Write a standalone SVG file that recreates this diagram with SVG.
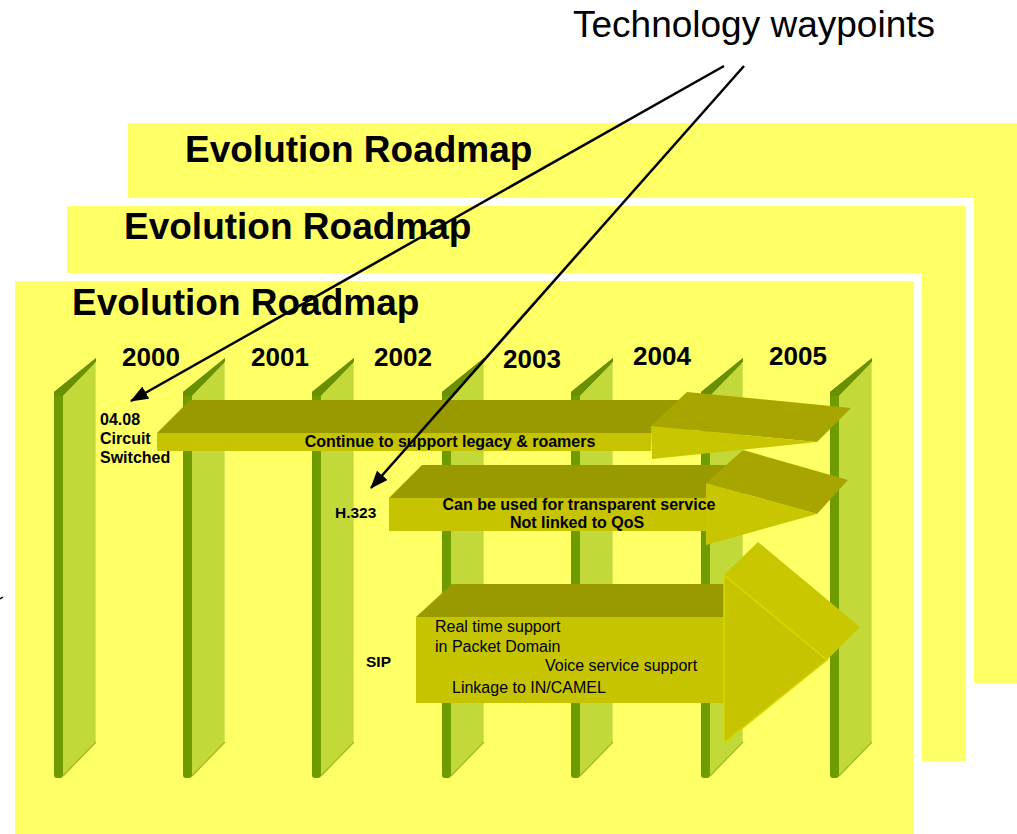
<svg xmlns="http://www.w3.org/2000/svg" width="1017" height="834" viewBox="0 0 1017 834">
<style>
text{font-family:"Liberation Sans",Arial,Helvetica,sans-serif;fill:#000}
.title{font-size:37px;font-weight:bold}
.year{font-size:26px;font-weight:bold}
.lbl{font-size:16px;font-weight:bold}
.txt{font-size:16px}
.panel{fill:#ffff66}
.border{fill:#ffffff}
.stop{fill:#999900}
.sfront{fill:#c6c400}
.htop{fill:#a8a500}
.hfront{fill:#c8c600}
.conn{stroke:#000;stroke-width:2.5;fill:none}
</style>
<defs>
<linearGradient id="strip" x1="0" y1="0" x2="1" y2="0">
<stop offset="0" stop-color="#6c9a00"/>
<stop offset="0.7" stop-color="#76a600"/>
<stop offset="1" stop-color="#82b000"/>
</linearGradient>
<g id="pillar">
<path d="M0,392 L42,358 L42,362 L9,396 L9,775 Q9,778 6,778 L3,778 Q0,778 0,775 Z" fill="url(#strip)"/>
<path d="M0,392 L42,358 L42,362 L9,396 L0,396 Z" fill="#6a8f00"/>
<polygon points="9,396 42,362 42,742 9,776" fill="#c3d93a"/>
<line x1="41.5" y1="362" x2="41.5" y2="742" stroke="#d3e752" stroke-width="1"/>
<line x1="9" y1="776" x2="42" y2="742" stroke="#98bc1c" stroke-width="1.2"/>
</g>
<marker id="ah" markerWidth="18" markerHeight="14" refX="17" refY="7" orient="auto" markerUnits="userSpaceOnUse">
<path d="M0,0 L18,7 L0,14 Z" fill="#000"/>
</marker>
</defs>
<rect width="1017" height="834" fill="#ffffff"/>
<g id="panel-back">
<rect class="panel" x="128" y="123" width="900" height="560"/>
<text class="title" x="185" y="162">Evolution Roadmap</text>
</g>
<g id="panel-middle">
<rect class="border" x="59" y="198" width="915" height="571"/>
<rect class="panel" x="67" y="206" width="899" height="555"/>
<text class="title" x="124" y="239">Evolution Roadmap</text>
</g>
<g id="panel-main">
<rect class="border" x="7" y="273" width="915" height="580"/>
<rect class="panel" x="15" y="281" width="899" height="570"/>
<text class="title" x="72" y="315">Evolution Roadmap</text>
</g>
<g id="years">
<text class="year" x="122" y="366">2000</text>
<text class="year" x="251" y="366">2001</text>
<text class="year" x="374" y="366">2002</text>
<text class="year" x="503" y="368">2003</text>
<text class="year" x="633" y="365">2004</text>
<text class="year" x="769" y="365">2005</text>
</g>
<g id="pillars">
<use href="#pillar" x="54"/>
<use href="#pillar" x="183"/>
<use href="#pillar" x="312"/>
<use href="#pillar" x="442"/>
<use href="#pillar" x="571"/>
<use href="#pillar" x="701"/>
<use href="#pillar" x="830"/>
</g>
<g id="label-circuit">
<text class="lbl" x="100" y="425">04.08</text>
<text class="lbl" x="100" y="444">Circuit</text>
<text class="lbl" x="100" y="463">Switched</text>
</g>
<g id="arrow-legacy">
<polygon class="stop" points="157,433 190,400 690,400 690,433"/>
<rect class="sfront" x="157" y="433" width="494" height="18"/>
<polygon class="htop" points="651,426 687,392 851,408 817,442"/>
<polygon class="hfront" points="651,426 817,442 652,459"/>
<text class="lbl" x="450" y="447" text-anchor="middle">Continue to support legacy &amp; roamers</text>
</g>
<g id="arrow-h323">
<text class="lbl" x="335" y="518" style="font-size:15.5px">H.323</text>
<polygon class="stop" points="389,498 422,465 745,465 745,498"/>
<rect class="sfront" x="389" y="498" width="317" height="33"/>
<polygon class="htop" points="706,483 743,450 848,480 817,514"/>
<polygon class="hfront" points="706,483 817,514 706,545"/>
<text class="lbl" x="579" y="510" text-anchor="middle">Can be used for transparent service</text>
<text class="lbl" x="577" y="528" text-anchor="middle">Not linked to QoS</text>
</g>
<g id="arrow-sip">
<text class="lbl" x="366" y="667" style="font-size:15.5px">SIP</text>
<polygon class="stop" points="416,617 452,584 724,584 724,617"/>
<rect class="sfront" x="416" y="617" width="308" height="86"/>
<polygon points="724,575 758,542 860,627 827,660" fill="#c9c700"/>
<polygon points="724,575 827,660 724,743" fill="#c6c400"/>
<polyline points="724,743 724,575 827,660 724,743" fill="none" stroke="#d8d800" stroke-width="1.5"/>
<text class="txt" x="435" y="632">Real time support</text>
<text class="txt" x="435" y="652">in Packet Domain</text>
<text class="txt" x="545" y="671">Voice service support</text>
<text class="txt" x="452" y="693">Linkage to IN/CAMEL</text>
</g>
<g id="label-waypoints">
<text x="573" y="37" style="font-size:37px">Technology waypoints</text>
</g>
<g id="connectors">
<line class="conn" x1="724" y1="66" x2="131" y2="401" marker-end="url(#ah)"/>
<line class="conn" x1="744" y1="66" x2="371" y2="488" marker-end="url(#ah)"/>
<line x1="0" y1="599" x2="3" y2="597" stroke="#000" stroke-width="1.5"/>
</g>
</svg>
